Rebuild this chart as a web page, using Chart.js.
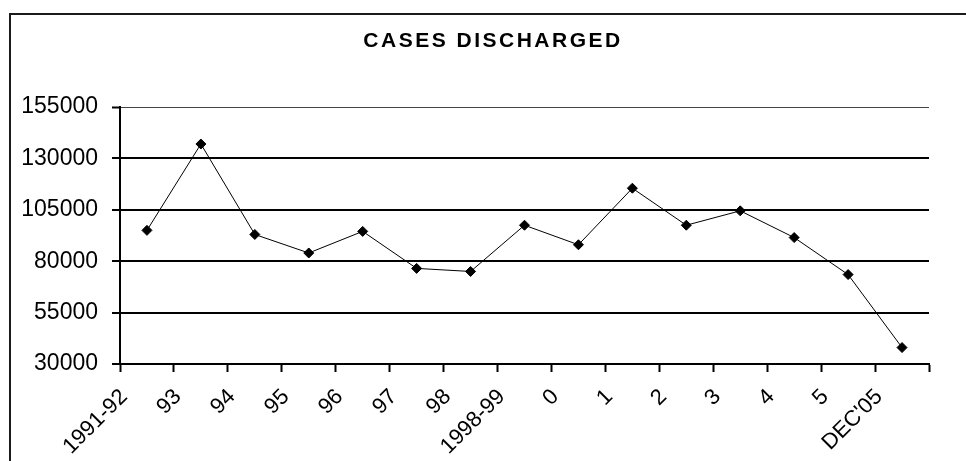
<!DOCTYPE html>
<html>
<head>
<meta charset="utf-8">
<script src="https://cdn.jsdelivr.net/npm/chart.js@4"></script>
<style>
  html, body { margin: 0; padding: 0; background: #fff; overflow: hidden; }
  #wrap { position: relative; width: 966px; height: 461px; }
  #frame { position: absolute; left: 9px; top: 13px; width: 1000px; height: 500px;
           border: 2px solid #1a1a1a; pointer-events: none; }
</style>
</head>
<body>
<div id="wrap">
  <canvas id="chart" width="966" height="461"></canvas>
  <div id="frame"></div>
</div>
<script>
const chartTitle = "CASES DISCHARGED";

// category labels (one per year, last one is December 2005)
const years = ["1991-92", "93", "94", "95", "96", "97", "98", "1998-99",
               "0", "1", "2", "3", "4", "5", "DEC'05"];

// cases discharged
const discharged = [95000, 137000, 93000, 84000, 94500, 76500, 75000, 97500,
                    88000, 115500, 97500, 104500, 91500, 73500, 38000];

const yTicks = [30000, 55000, 80000, 105000, 130000, 155000];

const FONT = '"Liberation Sans", Arial, sans-serif';

// Excel style: points sit between the tick marks, labels sit on the ticks
const points = discharged.map((v, i) => ({ x: i + 0.5, y: v }));

const spacedTitle = {
  id: "spacedTitle",
  afterDraw(chart) {
    const ctx = chart.ctx;
    ctx.save();
    ctx.font = "bold 21px " + FONT;
    ctx.letterSpacing = "2.5px";
    ctx.fillStyle = "#000";
    ctx.textAlign = "center";
    ctx.textBaseline = "middle";
    ctx.fillText(chartTitle, chart.width / 2 + 10, 41);
    ctx.restore();
  }
};

new Chart(document.getElementById("chart"), {
  type: "line",
  data: {
    datasets: [{
      label: chartTitle,
      data: points,
      borderColor: "#000",
      borderWidth: 1,
      backgroundColor: "#000",
      pointStyle: "rectRot",
      pointRadius: 5,
      pointBackgroundColor: "#000",
      pointBorderColor: "#000",
      tension: 0,
      fill: false
    }]
  },
  options: {
    responsive: false,
    animation: false,
    layout: { padding: { left: 9, right: 37, top: 107, bottom: 0 } },
    plugins: {
      legend: { display: false },
      title: { display: false },
      tooltip: { enabled: false }
    },
    scales: {
      x: {
        type: "linear",
        min: 0,
        max: years.length,
        afterFit: (axis) => { axis.height = 97; },
        border: { display: true, color: "#000", width: 2 },
        grid: {
          drawOnChartArea: false,
          drawTicks: true,
          tickLength: 8,
          tickColor: "#000",
          tickWidth: 2
        },
        ticks: {
          stepSize: 1,
          autoSkip: false,
          maxRotation: 45,
          minRotation: 45,
          padding: 12,
          labelOffset: 4,
          color: "#000",
          font: { family: FONT, size: 22 },
          callback: (v) => years[v] ?? ""
        }
      },
      y: {
        min: yTicks[0],
        max: yTicks[yTicks.length - 1],
        afterFit: (axis) => { axis.width = 111; },
        border: { display: true, color: "#000", width: 2 },
        grid: {
          color: (c) => c.tick && c.tick.value === 155000 ? "#444" : "#000",
          lineWidth: (c) => c.tick && c.tick.value === 155000 ? 1 : 2,
          tickLength: 8,
          tickColor: "#000",
          tickWidth: 2
        },
        afterBuildTicks: (axis) => { axis.ticks = yTicks.map(v => ({ value: v })); },
        ticks: {
          padding: 14,
          color: "#000",
          font: { family: FONT, size: 23 },
          callback: (v) => String(v)
        }
      }
    }
  },
  plugins: [spacedTitle]
});
</script>
</body>
</html>
